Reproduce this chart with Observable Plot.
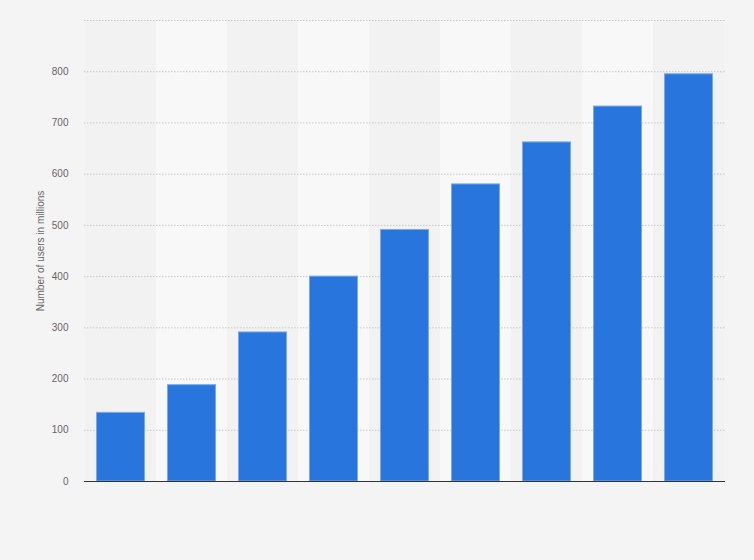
<!DOCTYPE html>
<html>
<head>
<meta charset="utf-8">
<script src="https://cdn.jsdelivr.net/npm/d3@7"></script>
<script src="https://cdn.jsdelivr.net/npm/@observablehq/plot@0.6"></script>
<style>
  html, body { margin: 0; padding: 0; background: #f4f4f4; }
  #chart svg { display: block; }
</style>
</head>
<body>
<div id="chart"></div>
<script>
const categories = ["1", "2", "3", "4", "5", "6", "7", "8", "9"];
const users = [134, 188, 291, 400, 491, 580, 662, 732, 795];
const yTicks = [0, 100, 200, 300, 400, 500, 600, 700, 800];
const gridTicks = [100, 200, 300, 400, 500, 600, 700, 800, 900];
const yLabel = "Number of users in millions";

const data = categories.map((c, i) => ({category: c, value: users[i], band: i % 2 === 1}));

const chart = Plot.plot({
  width: 754,
  height: 560,
  marginLeft: 84,
  marginRight: 29,
  marginTop: 20,
  marginBottom: 79,
  style: {background: "#f4f4f4", fontFamily: "'Liberation Sans', Arial, sans-serif", fontSize: "10px", color: "#666"},
  x: {domain: categories, padding: 0, axis: null},
  y: {domain: [0, 900], axis: null},
  marks: [
    Plot.barY(data, {x: "category", y1: 0, y2: 900, fill: d => d.band ? "#f8f8f8" : "#f2f2f2", inset: 0}),
    Plot.ruleY(gridTicks, {stroke: "#c8c8c8", strokeDasharray: "1.5,1.5", strokeWidth: 1}),
    Plot.barY(data, {x: "category", y: "value", fill: "#2876dd", stroke: "#7aa9ea", strokeWidth: 1, insetLeft: 11.5, insetRight: 11.5}),
    Plot.ruleY([0], {stroke: "#333", strokeWidth: 1.2}),
    Plot.axisY(yTicks, {tickSize: 0, tickPadding: 16, fill: "#666", fontSize: 10, label: null}),
    Plot.text([yLabel], {frameAnchor: "left", textAnchor: "middle", dx: -44, rotate: -90, fill: "#666", fontSize: 10})
  ]
});
document.getElementById("chart").appendChild(chart);
</script>
</body>
</html>
